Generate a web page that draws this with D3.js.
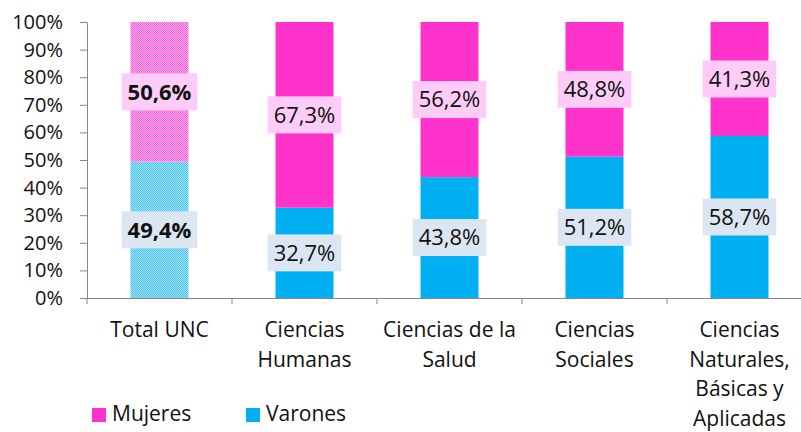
<html>
<head>
<meta charset="utf-8">
<script src="https://d3js.org/d3.v7.min.js"></script>
<style>
  body { margin: 0; background: #fff; }
  text { font-family: "Open Sans", sans-serif; fill: #111; }
</style>
</head>
<body>
<div id="chart"></div>
<script>
// values
var categories = ['Total UNC', 'Ciencias Humanas', 'Ciencias de la Salud', 'Ciencias Sociales', 'Ciencias Naturales, Básicas y Aplicadas']
var categoryLines = [
    ['Total UNC'],
    ['Ciencias', 'Humanas'],
    ['Ciencias de la', 'Salud'],
    ['Ciencias', 'Sociales'],
    ['Ciencias', 'Naturales,', 'Básicas y', 'Aplicadas']
]
var varones = [49.4, 32.7, 43.8, 51.2, 58.7]
var mujeres = [50.6, 67.3, 56.2, 48.8, 41.3]
var yTicks = [0, 10, 20, 30, 40, 50, 60, 70, 80, 90, 100]
var seriesNames = ['Mujeres', 'Varones']

var svgW = 801, svgH = 432
var plotLeft = 87, plotTop = 22, plotBottom = 298, plotRight = 812

var pink = '#ff33cc', blue = '#00b0f0'

var svg = d3.select('#chart').append('svg')
    .attr('width', svgW)
    .attr('height', svgH)

// dotted fills used by the Total UNC bar
var defs = svg.append('defs')
function checker(id, c1, c2) {
    var p = defs.append('pattern')
        .attr('id', id)
        .attr('patternUnits', 'userSpaceOnUse')
        .attr('width', 2).attr('height', 2)
    p.append('rect').attr('width', 2).attr('height', 2).attr('fill', c2)
    p.append('rect').attr('width', 1).attr('height', 1).attr('fill', c1)
    p.append('rect').attr('x', 1).attr('y', 1).attr('width', 1).attr('height', 1).attr('fill', c1)
}
checker('pinkDots', '#ff5dd6', '#ffb0ec')
checker('blueDots', '#44c4f4', '#a8e2fa')

var xs = d3.scaleBand()
    .domain(categories)
    .range([plotLeft, plotRight])
    .paddingInner(0.6)
    .paddingOuter(0.3)

var ys = d3.scaleLinear().domain([0, 100]).range([plotBottom, plotTop])

// axes
var yAxis = svg.append('g')
    .attr('transform', 'translate(' + plotLeft + ',0)')
    .call(d3.axisLeft(ys)
        .tickValues(yTicks)
        .tickFormat(function(d) { return d + '%' })
        .tickSize(7)
        .tickSizeOuter(0)
        .tickPadding(17))
yAxis.select('.domain').attr('stroke', '#868686')
yAxis.selectAll('.tick line').attr('stroke', '#868686')
yAxis.selectAll('.tick text')
    .style('font-size', '20px')
    .attr('fill', '#111')

var xAxis = svg.append('g')
    .attr('transform', 'translate(0,' + plotBottom + ')')
    .call(d3.axisBottom(xs).tickSize(6).tickSizeOuter(0).tickFormat(''))
xAxis.select('.domain').attr('d', 'M' + (plotLeft - 7) + ',0.5H' + svgW)
    .attr('stroke', '#868686')
xAxis.selectAll('.tick line')
    .attr('x1', -xs.step() / 2).attr('x2', -xs.step() / 2)
    .attr('stroke', '#868686')

// stacked bars
var rows = categories.map(function(c, i) {
    return { cat: c, i: i, Varones: varones[i], Mujeres: mujeres[i] }
})
var stack = d3.stack().keys(['Varones', 'Mujeres'])(rows)

var fills = {
    Varones: function(i) { return i == 0 ? 'url(#blueDots)' : blue },
    Mujeres: function(i) { return i == 0 ? 'url(#pinkDots)' : pink }
}

stack.forEach(function(layer) {
    svg.append('g')
        .selectAll('rect')
        .data(layer)
        .enter()
        .append('rect')
        .attr('x', function(d) { return xs(d.data.cat) })
        .attr('width', xs.bandwidth())
        .attr('y', function(d) { return ys(d[1]) })
        .attr('height', function(d) { return ys(d[0]) - ys(d[1]) })
        .attr('fill', function(d) { return fills[layer.key](d.data.i) })
})

// data labels with filled boxes
var boxColor = { Varones: '#dce6f2', Mujeres: '#ffccf8' }
stack.forEach(function(layer) {
    layer.forEach(function(d) {
        var cx = xs(d.data.cat) + xs.bandwidth() / 2
        var cy = (ys(d[0]) + ys(d[1])) / 2
        var g = svg.append('g')
        var box = g.append('rect').attr('fill', boxColor[layer.key])
        var t = g.append('text')
            .attr('x', cx)
            .attr('y', cy)
            .attr('dy', '0.36em')
            .attr('text-anchor', 'middle')
            .style('font-size', '22px')
            .style('font-weight', d.data.i == 0 ? 'bold' : 'normal')
            .text(d3.format('.1f')(d.data[layer.key]).replace('.', ',') + '%')
        var w = t.node().getComputedTextLength() + 12
        box.attr('x', cx - w / 2).attr('y', cy - 18.5)
            .attr('width', w).attr('height', 37)
    })
})

// category labels
categoryLines.forEach(function(lines, i) {
    var t = svg.append('text')
        .attr('text-anchor', 'middle')
        .style('font-size', '21px')
    lines.forEach(function(line, j) {
        t.append('tspan')
            .attr('x', xs(categories[i]) + xs.bandwidth() / 2)
            .attr('y', 337 + j * 29.5)
            .text(line)
    })
})

// legend
var legendX = [92, 246]
var legendColor = [pink, blue]
seriesNames.forEach(function(name, i) {
    svg.append('rect')
        .attr('x', legendX[i]).attr('y', 408)
        .attr('width', 14).attr('height', 14)
        .attr('fill', legendColor[i])
    svg.append('text')
        .attr('x', legendX[i] + 20)
        .attr('y', 421)
        .style('font-size', '21px')
        .text(name)
})
</script>
</body>
</html>
